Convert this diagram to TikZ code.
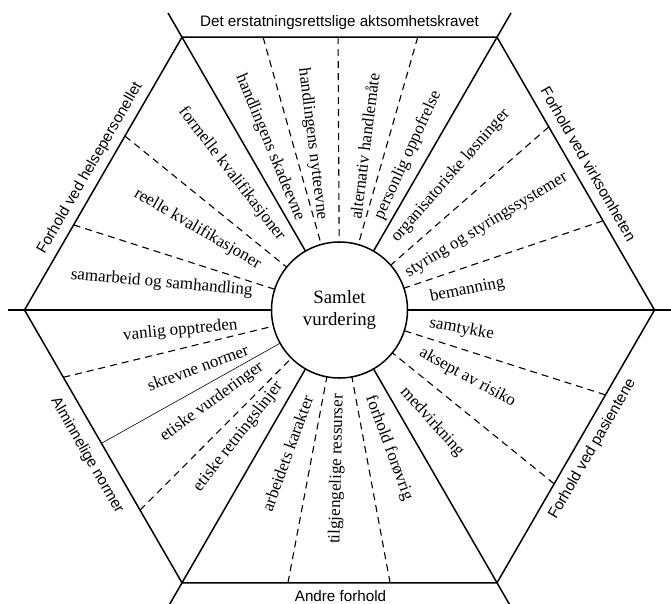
\documentclass[tikz,border=0pt]{standalone}
\usepackage{fontspec}
\setmainfont{Liberation Serif}
\setsansfont{Liberation Sans}
\usetikzlibrary{calc}
\begin{document}
\begin{tikzpicture}[x=1pt,y=-1pt,
  solidline/.style={line width=1.5pt},
  dashline/.style={line width=1.1pt, dash pattern=on 7pt off 5pt},
  thinline/.style={line width=0.6pt},
  lbl/.style={font=\fontsize{17}{20}\selectfont, inner sep=0pt},
  sect/.style={font=\sffamily\fontsize{15.2}{18}\selectfont, inner sep=0pt}]
\useasboundingbox (0,0) rectangle (671,603);
\coordinate (C) at (339.5,310);
\coordinate (V0) at (654.5,310);
\coordinate (V1) at (497,37.2);
\coordinate (V2) at (182,37.2);
\coordinate (V3) at (24.5,310);
\coordinate (V4) at (182,582.8);
\coordinate (V5) at (497,582.8);
% hexagon
\draw[solidline] (V0) -- (V1) -- (V2) -- (V3) -- (V4) -- (V5) -- cycle;
% central circle
\node[circle, draw, line width=1.5pt, minimum size=136pt, inner sep=0pt,
      align=center, font=\fontsize{18.8}{22}\selectfont] (circ) at (C) {Samlet\\vurdering};
% main spokes
\foreach \a/\r in {0/332, 60/343, 120/343, 180/332, 240/343, 300/343}
  \draw[solidline] ($(C)+({68*cos(\a)},{-68*sin(\a)})$) -- ($(C)+({\r*cos(\a)},{-\r*sin(\a)})$);
% dashed dividers
\foreach \a/\n in {105.65/90, 90.3/90, 74.0/90, 140.96/150, 162.25/150, 41.2/30, 18.7/30,
                   342.3/330, 321/330, 193.7/210, 225.1/210, 259.3/270, 280.5/270}
  \draw[dashline] ($(C)+({272.8/cos(\a-\n)*cos(\a)},{-272.8/cos(\a-\n)*sin(\a)})$) -- ($(C)+({68*cos(\a)},{-68*sin(\a)})$);
% thin solid divider
\draw[thinline] ($(C)+({272.8/cos(209.25-210)*cos(209.25)},{-272.8/cos(209.25-210)*sin(209.25)})$) -- ($(C)+({68*cos(209.25)},{-68*sin(209.25)})$);
% sector titles
\node[sect, anchor=base] (t1) at (339.5,26.7) {Det erstatningsrettslige aktsomhetskravet};
\node[sect, anchor=base] (t6) at (340.5,601.3) {Andre forhold};
\node[sect, rotate=60] (t2) at (90,168.5) {Forhold ved helsepersonellet};
\node[sect, rotate=-60] (t3) at (588.5,164) {Forhold ved virksomheten};
\node[sect, rotate=-60] (t4) at (87,455.5) {Alminnelige normer};
\node[sect, rotate=60] (t5) at (592.5,449) {Forhold ved pasientene};
% labels
\node[lbl, rotate=5.3] (l1) at (180.4,330.7) {vanlig opptreden};
\node[lbl, rotate=20] (l2) at (197.8,367.5) {skrevne normer};
\node[lbl, rotate=36] (l3) at (212,402) {etiske vurderinger};
\node[lbl, rotate=52] (l4) at (238.3,436.7) {etiske retningslinjer};
\node[lbl, rotate=70] (l5) at (287.3,453.3) {arbeidets karakter};
\node[lbl, rotate=88.7] (l6) at (337,469) {tilgjengelige ressurser};
\node[lbl, rotate=-69.6] (l7) at (389,448) {forhold forøvrig};
\node[lbl, rotate=-48] (l8) at (432,422) {medvirkning};
\node[lbl, rotate=-28.5] (l9) at (467.5,377.5) {aksept av risiko};
\node[lbl, rotate=-10.4] (l10) at (461.7,329.3) {samtykke};
\node[lbl, rotate=11] (l11) at (467.3,290) {bemanning};
\node[lbl, rotate=31.5] (l12) at (486.7,225) {styring og styringssystemer};
\node[lbl, rotate=48.9] (l13) at (450.7,175.7) {organisatoriske løsninger};
\node[lbl, rotate=65.3] (l14) at (408,155) {personlig oppofrelse};
\node[lbl, rotate=82.8] (l15) at (364.5,146) {alternativ handlemåte};
\node[lbl, rotate=-83] (l16) at (312.5,144) {handlingens nytteevne};
\node[lbl, rotate=-67.5] (l17) at (270,147.5) {handlingens skadeevne};
\node[lbl, rotate=-52.3] (l18) at (231.7,174) {formelle kvalifikasjoner};
\node[lbl, rotate=-30.3] (l19) at (197.5,229) {reelle kvalifikasjoner};
\node[lbl, rotate=-5] (l20) at (161.7,283.3) {samarbeid og samhandling};
\end{tikzpicture}
\end{document}
